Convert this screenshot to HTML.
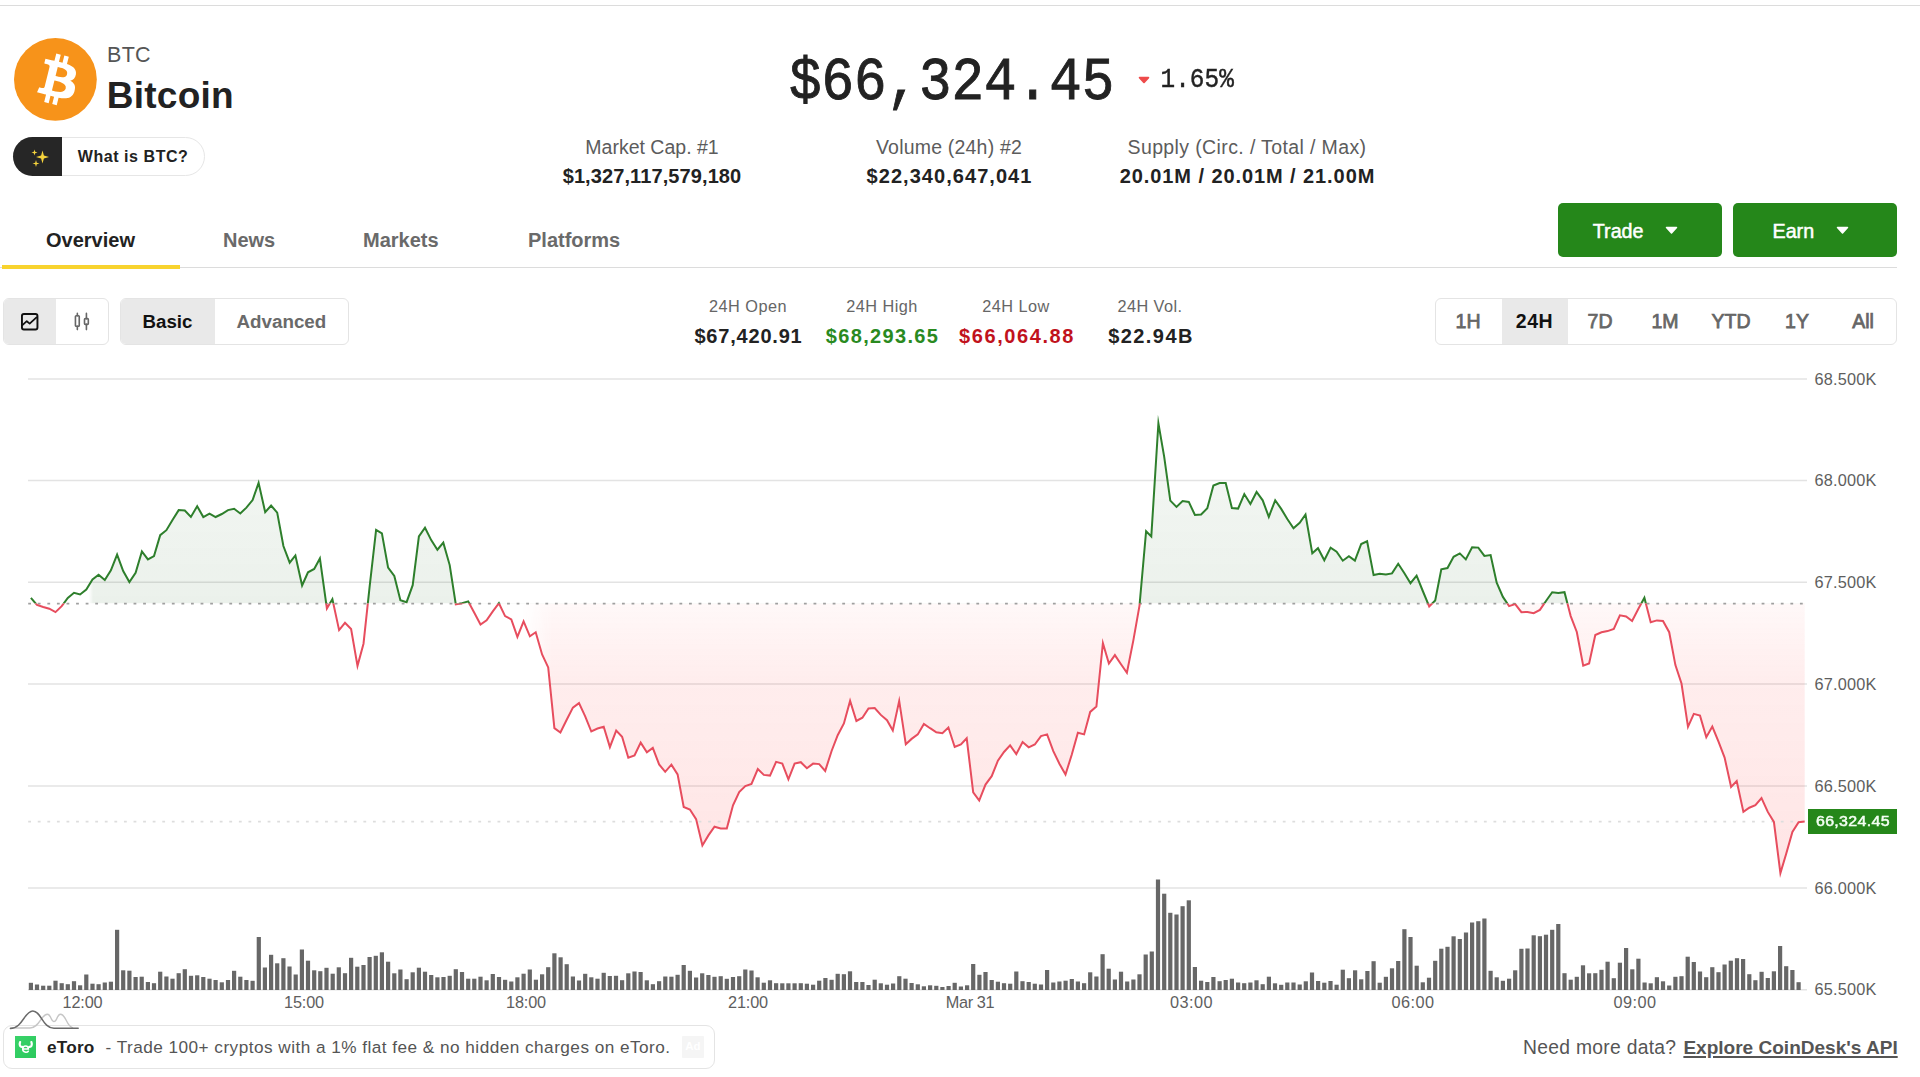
<!DOCTYPE html>
<html><head><meta charset="utf-8"><title>Bitcoin</title>
<style>
html,body{margin:0;padding:0;background:#fff;}
body{width:1920px;height:1077px;position:relative;overflow:hidden;font-family:"Liberation Sans",sans-serif;color:#222;}
.a{position:absolute;white-space:nowrap;}
.c{position:absolute;white-space:nowrap;text-align:center;}
.m{-webkit-text-stroke:0.5px currentColor;}
.m2{-webkit-text-stroke:0.75px currentColor;}
.topline{left:0;top:5px;width:1920px;height:1px;background:#dcdcdc;}
.btc{left:107px;top:42px;font-size:21.5px;line-height:26px;color:#555;letter-spacing:0.3px;}
.name{left:106.8px;top:72.8px;font-size:37px;line-height:46px;font-weight:bold;color:#222;letter-spacing:0.25px;}
.pill{left:13.3px;top:136.8px;width:190px;height:37.4px;border:1px solid #e6e6e6;border-radius:20px;background:#fff;}
.pill .dk{position:absolute;left:-1px;top:-1px;width:48.5px;height:39.4px;background:#262626;border-radius:20px 0 0 20px;}
.pill .tx{position:absolute;left:63.5px;top:0;line-height:37.4px;font-size:16px;font-weight:bold;letter-spacing:0.55px;color:#222;}
.price{left:789px;top:47.1px;font-family:"Liberation Mono",monospace;font-size:54.2px;line-height:66px;color:#222;letter-spacing:0;-webkit-text-stroke:0.8px #222;transform-origin:0 0;transform:scaleY(1.112);}
.chg{left:1160.6px;top:63.9px;font-family:"Liberation Mono",monospace;font-size:24.4px;line-height:30px;color:#222;-webkit-text-stroke:0.4px #222;transform-origin:0 0;transform:scaleY(1.105);}
.sl{font-size:19.5px;line-height:24px;color:#5c5c5c;width:400px;}
.sv{font-size:20px;line-height:24px;color:#222;font-weight:bold;width:400px;}
.tab{font-size:20px;line-height:24px;color:#6a6a6a;top:227.7px;font-weight:bold;}
.tabline{left:0;top:266.5px;width:1897px;height:1px;background:#dcdcdc;}
.tabsel{left:2px;top:265px;width:178px;height:3.5px;background:#f8d32e;}
.btn{top:203px;width:164px;height:54px;background:#25871a;border-radius:5px;color:#fff;font-size:19.7px;line-height:54px;}
.seg{top:297.8px;height:45.7px;border:1px solid #e4e4e4;border-radius:6px;background:#fff;overflow:hidden;}
.seg .on{position:absolute;top:0;height:46px;background:#e9e9e9;}
.hl{font-size:16.3px;line-height:20px;color:#666;width:200px;top:296px;letter-spacing:0.45px;}
.hv{font-size:20px;line-height:24px;font-weight:bold;width:200px;top:324px;color:#222;}
.rg{font-size:19.5px;line-height:24px;color:#666;width:66px;top:309.3px;}
.yl{position:absolute;left:1814.5px;font-size:16.3px;line-height:20px;color:#5e5e5e;white-space:nowrap;letter-spacing:0.2px;}
.xl{position:absolute;top:991.9px;width:80px;text-align:center;font-size:16.3px;line-height:20px;color:#5e5e5e;white-space:nowrap;letter-spacing:0.2px;}
.plabel{left:1808px;top:809px;width:89px;height:24.5px;background:#25871a;color:#f4fff4;font-size:14.5px;line-height:25.4px;text-align:center;letter-spacing:0.3px;text-indent:0.3px;-webkit-text-stroke:0.5px #f4fff4;}
.plabel span{display:inline-block;transform:scaleX(1.1);}
.ad{left:3px;top:1025px;width:710px;height:42px;border:1px solid #e4e4e4;border-radius:9px;background:#fff;}
.adlogo{left:14.6px;top:1036.1px;width:21.5px;height:21.5px;background:linear-gradient(135deg,#3ad36a,#2bc85c);}
.adname{left:47px;top:1035px;font-size:17.2px;line-height:24px;font-weight:bold;color:#222;letter-spacing:0.2px;}
.adtxt{left:105.5px;top:1035px;font-size:17.2px;line-height:24px;color:#555;letter-spacing:0.47px;}
.adbadge{left:682.2px;top:1035.8px;width:21.6px;height:21.8px;background:#f5f5f5;border-radius:1px;color:#fff;font-size:11.5px;font-weight:bold;line-height:21.8px;text-align:center;}
.need{left:1523px;top:1035.8px;font-size:19.3px;line-height:24px;color:#555;letter-spacing:0.29px;}
.needl{left:1683.4px;top:1035.8px;font-size:19.05px;line-height:24px;color:#555;font-weight:bold;text-decoration:underline;text-decoration-thickness:1.5px;text-underline-offset:2px;}
svg{position:absolute;left:0;top:0;}
</style></head><body>
<div class="a topline"></div>

<svg width="1920" height="1077" viewBox="0 0 1920 1077">
<defs>
<linearGradient id="gg" gradientUnits="userSpaceOnUse" x1="0" y1="410" x2="0" y2="603.6">
<stop offset="0" stop-color="#236423" stop-opacity="0.015"/><stop offset="0.36" stop-color="#236423" stop-opacity="0.06"/><stop offset="1" stop-color="#236423" stop-opacity="0.09"/></linearGradient>
<linearGradient id="rg" gradientUnits="userSpaceOnUse" x1="0" y1="603.6" x2="0" y2="880">
<stop offset="0" stop-color="#ff3b3b" stop-opacity="0.035"/><stop offset="0.27" stop-color="#ff3b3b" stop-opacity="0.09"/><stop offset="1" stop-color="#ff3b3b" stop-opacity="0.135"/></linearGradient>
<linearGradient id="hg" gradientUnits="userSpaceOnUse" x1="0" y1="0" x2="1920" y2="0"><stop offset="0.04635416666666667" stop-color="#000"/><stop offset="0.0484375" stop-color="#fff"/></linearGradient>
<linearGradient id="hr" gradientUnits="userSpaceOnUse" x1="0" y1="0" x2="1920" y2="0"><stop offset="0.271875" stop-color="#000"/><stop offset="0.2875" stop-color="#fff"/></linearGradient>
<mask id="mg" maskUnits="userSpaceOnUse" x="0" y="0" width="1920" height="1077"><rect x="0" y="0" width="1920" height="1077" fill="url(#hg)"/></mask>
<mask id="mr" maskUnits="userSpaceOnUse" x="0" y="0" width="1920" height="1077"><rect x="0" y="0" width="1920" height="1077" fill="url(#hr)"/></mask>
<clipPath id="up"><rect x="0" y="370" width="1920" height="233.60000000000002"/></clipPath>
<clipPath id="dn"><rect x="0" y="603.6" width="1920" height="396.4"/></clipPath>
</defs>
<g stroke="#e3e3e3" stroke-width="1.4"><line x1="28" x2="1807" y1="379" y2="379"/><line x1="28" x2="1807" y1="480.5" y2="480.5"/><line x1="28" x2="1807" y1="582.3" y2="582.3"/><line x1="28" x2="1807" y1="684" y2="684"/><line x1="28" x2="1807" y1="786" y2="786"/><line x1="28" x2="1807" y1="888" y2="888"/><line x1="28" x2="1807" y1="989.7" y2="989.7"/></g>
<g mask="url(#mg)"><path d="M30.9 603.6 L30.9 597.9 L37 605 L43.2 607 L49.3 608.7 L55.5 612.1 L61.7 606.2 L67.8 597.9 L74 592.8 L80.1 594.5 L86.3 589.5 L92.5 579.5 L98.6 574.8 L104.8 580 L110.9 570.3 L117.1 554.6 L123.2 571.1 L129.4 582 L135.6 572.8 L141.9 551.5 L147.9 559.4 L154 556.1 L160.2 535.2 L166.4 530.2 L172.5 520.1 L178.7 510.1 L184.8 510.5 L190.9 516.9 L197.2 506.2 L203.3 517.1 L209.5 513.6 L215.6 517 L221.8 514 L228 510.1 L234.1 508.8 L240.3 513.5 L246.4 507.6 L252.6 500.1 L258.6 482.9 L265.2 512.2 L271.1 505.6 L277.2 512.6 L283.4 546 L289.7 562.7 L295.4 555.5 L302.1 585.5 L308 572.3 L314.2 568.9 L319.9 558.4 L326.9 608.5 L332.4 599.1 L339.1 630.1 L345 622.8 L351.1 629 L357.5 665.8 L363.5 643.7 L369.6 586.9 L376.1 530 L381.9 533.4 L388.1 567.6 L394.3 576 L400.4 600.2 L406.6 602.2 L412.7 585.2 L418.9 536.4 L425 527.7 L431.2 540.1 L437.4 549.7 L443.3 542.7 L449.7 565.1 L455.8 604.4 L462 603.2 L468.2 601.4 L474.3 612.8 L480.5 624.5 L486.6 620.3 L492.8 611.4 L498.9 603.2 L505.1 616.1 L511.3 619.4 L517.4 636.9 L523.6 621.4 L529.9 636.3 L535.7 632.3 L542.1 654.5 L548.2 667.4 L554.4 728.1 L560.4 732.5 L566.7 719.8 L572.9 707.6 L579 703.1 L585.2 716.4 L591.3 731.5 L597.5 728.5 L603.7 726.8 L609.9 747.1 L616.2 730.6 L622.1 736.8 L628.3 757.7 L634.5 755.5 L640.7 742.6 L646.9 752.2 L652.8 747.9 L659.1 764.4 L665.2 771.8 L671.4 764.7 L677.6 774.4 L683.7 807 L689.9 809.5 L696.1 819.1 L702.4 845.4 L708.4 835.4 L714.5 826.7 L720.7 828.4 L726.8 828.4 L733 805.3 L739.2 792 L745.3 786.1 L751.5 784 L757.8 769 L763.8 774.9 L770 775.6 L776.1 761.9 L782.3 763.6 L788.4 779.3 L794.6 763.6 L800.8 762.2 L806.9 768.2 L813.1 763.6 L819.2 764.1 L825.2 770.9 L831.6 751 L837.7 735.2 L843.9 723.5 L850.1 700.9 L856.4 721 L862.4 717.7 L868.5 708.5 L874.7 708 L880.8 714.9 L887 720.2 L892.8 730.5 L899.2 700.9 L905.8 744.2 L911.6 738.9 L917.8 734.4 L923.9 723.9 L930.1 728.2 L936.3 732.3 L942.4 733.3 L948.4 727.5 L954.7 747 L960.9 744.5 L966.7 738.3 L973.2 792.4 L979.2 800.5 L985.5 784.6 L991.7 776.2 L997.9 760.7 L1004 752 L1010.1 745.4 L1016.3 754 L1022.6 742.1 L1028.7 747.3 L1034.8 744.5 L1041 736.1 L1047.1 734.4 L1053.3 751.1 L1059.4 763.7 L1065.5 774.6 L1071.8 754.5 L1077.9 732.8 L1084.1 734.4 L1090.2 711.9 L1096.4 706.5 L1102.9 643.1 L1108.9 663.5 L1114.9 655.1 L1121 664.2 L1126.9 672.7 L1133.4 640.1 L1139.5 605.6 L1146.1 531.2 L1151.3 536.4 L1158.4 423.3 L1164.2 456.8 L1170.3 500.6 L1176.5 506.9 L1182.6 501.1 L1188.8 501.9 L1194.9 515 L1201.1 514.5 L1207.3 508.3 L1213.4 485.5 L1219.6 483 L1225.7 483 L1231.9 508.1 L1238.1 508.6 L1244.3 494.1 L1250.4 504 L1256.6 492 L1262.7 500.3 L1268.8 516.9 L1275.2 500.3 L1281.2 508.9 L1287.3 519 L1293.5 528.3 L1299.7 522.8 L1305.5 514.5 L1312.3 553.3 L1318 548.2 L1324.3 560.3 L1330.6 547.6 L1336.6 551.7 L1342.8 560.7 L1348.9 556.2 L1354.9 560.6 L1361.2 544 L1367.1 541.3 L1373.6 575.1 L1379.7 573.8 L1385.9 574.6 L1392 573.4 L1398.2 563.8 L1404.4 573.3 L1410.5 583.2 L1416.6 575.7 L1422.8 591 L1429.2 606.4 L1435.2 600.5 L1441.3 569.3 L1447.5 568.1 L1453.6 556.8 L1459.8 553.4 L1465.8 559.4 L1472.1 547.2 L1478.3 547.6 L1484.4 555.9 L1490.6 555.1 L1496.7 582.7 L1502.9 596.9 L1509.1 606.1 L1515.2 604.1 L1521.4 612.2 L1527.5 611.9 L1533.7 613.2 L1539.9 609.9 L1546 601 L1552.2 592.2 L1558.3 593 L1564.5 592.2 L1570.7 616.1 L1576.8 632 L1583.2 665.7 L1589.1 663.4 L1595.3 635 L1601.5 632.3 L1607.6 631.1 L1613.8 629 L1619.9 615.3 L1626.1 616.4 L1632.1 621 L1638.4 608.7 L1644.4 597.8 L1650.7 622.3 L1656.9 620.4 L1663 620.9 L1669.2 632.2 L1675.4 665.1 L1681.5 683.5 L1688 726.8 L1693.8 713.9 L1700 715.6 L1706.3 737.2 L1712.3 726.5 L1718.5 741.7 L1724.6 757.6 L1731.1 786.9 L1736.7 781.1 L1743.4 811.9 L1749.3 807.7 L1755.4 805.2 L1761.5 798.1 L1767.8 811.9 L1773.9 821.9 L1780.4 873.1 L1786.2 853.7 L1792.4 832 L1798.6 822.3 L1804.7 821.6 L1804.7 603.6 Z" fill="url(#gg)" clip-path="url(#up)"/></g>
<g mask="url(#mr)"><path d="M30.9 603.6 L30.9 597.9 L37 605 L43.2 607 L49.3 608.7 L55.5 612.1 L61.7 606.2 L67.8 597.9 L74 592.8 L80.1 594.5 L86.3 589.5 L92.5 579.5 L98.6 574.8 L104.8 580 L110.9 570.3 L117.1 554.6 L123.2 571.1 L129.4 582 L135.6 572.8 L141.9 551.5 L147.9 559.4 L154 556.1 L160.2 535.2 L166.4 530.2 L172.5 520.1 L178.7 510.1 L184.8 510.5 L190.9 516.9 L197.2 506.2 L203.3 517.1 L209.5 513.6 L215.6 517 L221.8 514 L228 510.1 L234.1 508.8 L240.3 513.5 L246.4 507.6 L252.6 500.1 L258.6 482.9 L265.2 512.2 L271.1 505.6 L277.2 512.6 L283.4 546 L289.7 562.7 L295.4 555.5 L302.1 585.5 L308 572.3 L314.2 568.9 L319.9 558.4 L326.9 608.5 L332.4 599.1 L339.1 630.1 L345 622.8 L351.1 629 L357.5 665.8 L363.5 643.7 L369.6 586.9 L376.1 530 L381.9 533.4 L388.1 567.6 L394.3 576 L400.4 600.2 L406.6 602.2 L412.7 585.2 L418.9 536.4 L425 527.7 L431.2 540.1 L437.4 549.7 L443.3 542.7 L449.7 565.1 L455.8 604.4 L462 603.2 L468.2 601.4 L474.3 612.8 L480.5 624.5 L486.6 620.3 L492.8 611.4 L498.9 603.2 L505.1 616.1 L511.3 619.4 L517.4 636.9 L523.6 621.4 L529.9 636.3 L535.7 632.3 L542.1 654.5 L548.2 667.4 L554.4 728.1 L560.4 732.5 L566.7 719.8 L572.9 707.6 L579 703.1 L585.2 716.4 L591.3 731.5 L597.5 728.5 L603.7 726.8 L609.9 747.1 L616.2 730.6 L622.1 736.8 L628.3 757.7 L634.5 755.5 L640.7 742.6 L646.9 752.2 L652.8 747.9 L659.1 764.4 L665.2 771.8 L671.4 764.7 L677.6 774.4 L683.7 807 L689.9 809.5 L696.1 819.1 L702.4 845.4 L708.4 835.4 L714.5 826.7 L720.7 828.4 L726.8 828.4 L733 805.3 L739.2 792 L745.3 786.1 L751.5 784 L757.8 769 L763.8 774.9 L770 775.6 L776.1 761.9 L782.3 763.6 L788.4 779.3 L794.6 763.6 L800.8 762.2 L806.9 768.2 L813.1 763.6 L819.2 764.1 L825.2 770.9 L831.6 751 L837.7 735.2 L843.9 723.5 L850.1 700.9 L856.4 721 L862.4 717.7 L868.5 708.5 L874.7 708 L880.8 714.9 L887 720.2 L892.8 730.5 L899.2 700.9 L905.8 744.2 L911.6 738.9 L917.8 734.4 L923.9 723.9 L930.1 728.2 L936.3 732.3 L942.4 733.3 L948.4 727.5 L954.7 747 L960.9 744.5 L966.7 738.3 L973.2 792.4 L979.2 800.5 L985.5 784.6 L991.7 776.2 L997.9 760.7 L1004 752 L1010.1 745.4 L1016.3 754 L1022.6 742.1 L1028.7 747.3 L1034.8 744.5 L1041 736.1 L1047.1 734.4 L1053.3 751.1 L1059.4 763.7 L1065.5 774.6 L1071.8 754.5 L1077.9 732.8 L1084.1 734.4 L1090.2 711.9 L1096.4 706.5 L1102.9 643.1 L1108.9 663.5 L1114.9 655.1 L1121 664.2 L1126.9 672.7 L1133.4 640.1 L1139.5 605.6 L1146.1 531.2 L1151.3 536.4 L1158.4 423.3 L1164.2 456.8 L1170.3 500.6 L1176.5 506.9 L1182.6 501.1 L1188.8 501.9 L1194.9 515 L1201.1 514.5 L1207.3 508.3 L1213.4 485.5 L1219.6 483 L1225.7 483 L1231.9 508.1 L1238.1 508.6 L1244.3 494.1 L1250.4 504 L1256.6 492 L1262.7 500.3 L1268.8 516.9 L1275.2 500.3 L1281.2 508.9 L1287.3 519 L1293.5 528.3 L1299.7 522.8 L1305.5 514.5 L1312.3 553.3 L1318 548.2 L1324.3 560.3 L1330.6 547.6 L1336.6 551.7 L1342.8 560.7 L1348.9 556.2 L1354.9 560.6 L1361.2 544 L1367.1 541.3 L1373.6 575.1 L1379.7 573.8 L1385.9 574.6 L1392 573.4 L1398.2 563.8 L1404.4 573.3 L1410.5 583.2 L1416.6 575.7 L1422.8 591 L1429.2 606.4 L1435.2 600.5 L1441.3 569.3 L1447.5 568.1 L1453.6 556.8 L1459.8 553.4 L1465.8 559.4 L1472.1 547.2 L1478.3 547.6 L1484.4 555.9 L1490.6 555.1 L1496.7 582.7 L1502.9 596.9 L1509.1 606.1 L1515.2 604.1 L1521.4 612.2 L1527.5 611.9 L1533.7 613.2 L1539.9 609.9 L1546 601 L1552.2 592.2 L1558.3 593 L1564.5 592.2 L1570.7 616.1 L1576.8 632 L1583.2 665.7 L1589.1 663.4 L1595.3 635 L1601.5 632.3 L1607.6 631.1 L1613.8 629 L1619.9 615.3 L1626.1 616.4 L1632.1 621 L1638.4 608.7 L1644.4 597.8 L1650.7 622.3 L1656.9 620.4 L1663 620.9 L1669.2 632.2 L1675.4 665.1 L1681.5 683.5 L1688 726.8 L1693.8 713.9 L1700 715.6 L1706.3 737.2 L1712.3 726.5 L1718.5 741.7 L1724.6 757.6 L1731.1 786.9 L1736.7 781.1 L1743.4 811.9 L1749.3 807.7 L1755.4 805.2 L1761.5 798.1 L1767.8 811.9 L1773.9 821.9 L1780.4 873.1 L1786.2 853.7 L1792.4 832 L1798.6 822.3 L1804.7 821.6 L1804.7 603.6 Z" fill="url(#rg)" clip-path="url(#dn)"/></g>
<line x1="28.2" x2="1805" y1="603.6" y2="603.6" stroke="#a0a0a0" stroke-width="1.7" stroke-dasharray="2.8 6.777"/>
<line x1="28.2" x2="1805" y1="821.6" y2="821.6" stroke="#dddddd" stroke-width="1.6" stroke-dasharray="2.8 6.777"/>
<g fill="#676767"><rect x="28.8" y="982.8" width="4.2" height="7.2"/><rect x="34.9" y="984.5" width="4.2" height="5.5"/><rect x="41.1" y="985.7" width="4.2" height="4.3"/><rect x="47.2" y="985.7" width="4.2" height="4.3"/><rect x="53.4" y="980.7" width="4.2" height="9.3"/><rect x="59.6" y="983.2" width="4.2" height="6.8"/><rect x="65.7" y="984.2" width="4.2" height="5.8"/><rect x="71.9" y="981.2" width="4.2" height="8.8"/><rect x="78" y="985.3" width="4.2" height="4.7"/><rect x="84.2" y="974.5" width="4.2" height="15.5"/><rect x="90.4" y="983.7" width="4.2" height="6.3"/><rect x="96.5" y="984.2" width="4.2" height="5.8"/><rect x="102.7" y="982.5" width="4.2" height="7.5"/><rect x="108.8" y="981.7" width="4.2" height="8.3"/><rect x="115" y="929.8" width="4.2" height="60.2"/><rect x="121.1" y="970.3" width="4.2" height="19.7"/><rect x="127.3" y="970.7" width="4.2" height="19.3"/><rect x="133.5" y="977" width="4.2" height="13"/><rect x="139.6" y="976.7" width="4.2" height="13.3"/><rect x="145.8" y="982" width="4.2" height="8"/><rect x="151.9" y="983.2" width="4.2" height="6.8"/><rect x="158.1" y="971.7" width="4.2" height="18.3"/><rect x="164.3" y="976.5" width="4.2" height="13.5"/><rect x="170.4" y="978.7" width="4.2" height="11.3"/><rect x="176.6" y="973.2" width="4.2" height="16.8"/><rect x="182.7" y="969.2" width="4.2" height="20.8"/><rect x="188.9" y="975.8" width="4.2" height="14.2"/><rect x="195.1" y="975.3" width="4.2" height="14.7"/><rect x="201.2" y="977" width="4.2" height="13"/><rect x="207.4" y="978.7" width="4.2" height="11.3"/><rect x="213.5" y="980" width="4.2" height="10"/><rect x="219.7" y="982.3" width="4.2" height="7.7"/><rect x="225.9" y="980" width="4.2" height="10"/><rect x="232" y="970.8" width="4.2" height="19.2"/><rect x="238.2" y="976.7" width="4.2" height="13.3"/><rect x="244.3" y="980" width="4.2" height="10"/><rect x="250.5" y="980.8" width="4.2" height="9.2"/><rect x="256.7" y="937" width="4.2" height="53"/><rect x="262.8" y="967.5" width="4.2" height="22.5"/><rect x="269" y="954.8" width="4.2" height="35.2"/><rect x="275.1" y="963.3" width="4.2" height="26.7"/><rect x="281.3" y="958.2" width="4.2" height="31.8"/><rect x="287.4" y="966.5" width="4.2" height="23.5"/><rect x="293.6" y="974.5" width="4.2" height="15.5"/><rect x="299.8" y="949.5" width="4.2" height="40.5"/><rect x="305.9" y="960.7" width="4.2" height="29.3"/><rect x="312.1" y="970.3" width="4.2" height="19.7"/><rect x="318.2" y="971.2" width="4.2" height="18.8"/><rect x="324.4" y="967.8" width="4.2" height="22.2"/><rect x="330.6" y="973.7" width="4.2" height="16.3"/><rect x="336.7" y="967.3" width="4.2" height="22.7"/><rect x="342.9" y="973.2" width="4.2" height="16.8"/><rect x="349" y="957.8" width="4.2" height="32.2"/><rect x="355.2" y="966.7" width="4.2" height="23.3"/><rect x="361.4" y="965" width="4.2" height="25"/><rect x="367.5" y="957" width="4.2" height="33"/><rect x="373.7" y="955.8" width="4.2" height="34.2"/><rect x="379.8" y="952.3" width="4.2" height="37.7"/><rect x="386" y="961.7" width="4.2" height="28.3"/><rect x="392.2" y="973.3" width="4.2" height="16.7"/><rect x="398.3" y="969.5" width="4.2" height="20.5"/><rect x="404.5" y="979.2" width="4.2" height="10.8"/><rect x="410.6" y="972.3" width="4.2" height="17.7"/><rect x="416.8" y="967.7" width="4.2" height="22.3"/><rect x="422.9" y="971.7" width="4.2" height="18.3"/><rect x="429.1" y="975" width="4.2" height="15"/><rect x="435.3" y="977.3" width="4.2" height="12.7"/><rect x="441.4" y="977" width="4.2" height="13"/><rect x="447.6" y="975.8" width="4.2" height="14.2"/><rect x="453.7" y="969.2" width="4.2" height="20.8"/><rect x="459.9" y="972" width="4.2" height="18"/><rect x="466.1" y="978.7" width="4.2" height="11.3"/><rect x="472.2" y="978.7" width="4.2" height="11.3"/><rect x="478.4" y="976.7" width="4.2" height="13.3"/><rect x="484.5" y="980.3" width="4.2" height="9.7"/><rect x="490.7" y="974" width="4.2" height="16"/><rect x="496.9" y="977" width="4.2" height="13"/><rect x="503" y="979.8" width="4.2" height="10.2"/><rect x="509.2" y="981.5" width="4.2" height="8.5"/><rect x="515.3" y="977.3" width="4.2" height="12.7"/><rect x="521.5" y="973.7" width="4.2" height="16.3"/><rect x="527.7" y="969.5" width="4.2" height="20.5"/><rect x="533.8" y="979.7" width="4.2" height="10.3"/><rect x="540" y="974.3" width="4.2" height="15.7"/><rect x="546.1" y="967.2" width="4.2" height="22.8"/><rect x="552.3" y="953.3" width="4.2" height="36.7"/><rect x="558.5" y="957.3" width="4.2" height="32.7"/><rect x="564.6" y="964.2" width="4.2" height="25.8"/><rect x="570.8" y="976.5" width="4.2" height="13.5"/><rect x="576.9" y="980.5" width="4.2" height="9.5"/><rect x="583.1" y="973.8" width="4.2" height="16.2"/><rect x="589.2" y="977.3" width="4.2" height="12.7"/><rect x="595.4" y="978.7" width="4.2" height="11.3"/><rect x="601.6" y="972.8" width="4.2" height="17.2"/><rect x="607.7" y="976" width="4.2" height="14"/><rect x="613.9" y="975.8" width="4.2" height="14.2"/><rect x="620" y="980.2" width="4.2" height="9.8"/><rect x="626.2" y="973.3" width="4.2" height="16.7"/><rect x="632.4" y="971.5" width="4.2" height="18.5"/><rect x="638.5" y="972" width="4.2" height="18"/><rect x="644.7" y="980.3" width="4.2" height="9.7"/><rect x="650.8" y="984.2" width="4.2" height="5.8"/><rect x="657" y="981.2" width="4.2" height="8.8"/><rect x="663.2" y="976.5" width="4.2" height="13.5"/><rect x="669.3" y="976.7" width="4.2" height="13.3"/><rect x="675.5" y="974.8" width="4.2" height="15.2"/><rect x="681.6" y="965" width="4.2" height="25"/><rect x="687.8" y="970.8" width="4.2" height="19.2"/><rect x="694" y="977.5" width="4.2" height="12.5"/><rect x="700.1" y="973.3" width="4.2" height="16.7"/><rect x="706.3" y="975" width="4.2" height="15"/><rect x="712.4" y="976.8" width="4.2" height="13.2"/><rect x="718.6" y="976.2" width="4.2" height="13.8"/><rect x="724.7" y="978.8" width="4.2" height="11.2"/><rect x="730.9" y="977" width="4.2" height="13"/><rect x="737.1" y="976.2" width="4.2" height="13.8"/><rect x="743.2" y="969.5" width="4.2" height="20.5"/><rect x="749.4" y="970.5" width="4.2" height="19.5"/><rect x="755.5" y="977.3" width="4.2" height="12.7"/><rect x="761.7" y="982.7" width="4.2" height="7.3"/><rect x="767.9" y="980.3" width="4.2" height="9.7"/><rect x="774" y="983.2" width="4.2" height="6.8"/><rect x="780.2" y="983.3" width="4.2" height="6.7"/><rect x="786.3" y="983.3" width="4.2" height="6.7"/><rect x="792.5" y="983.3" width="4.2" height="6.7"/><rect x="798.7" y="983.2" width="4.2" height="6.8"/><rect x="804.8" y="983.7" width="4.2" height="6.3"/><rect x="811" y="984.7" width="4.2" height="5.3"/><rect x="817.1" y="980.7" width="4.2" height="9.3"/><rect x="823.3" y="978" width="4.2" height="12"/><rect x="829.5" y="979.8" width="4.2" height="10.2"/><rect x="835.6" y="973.8" width="4.2" height="16.2"/><rect x="841.8" y="974.2" width="4.2" height="15.8"/><rect x="847.9" y="971.3" width="4.2" height="18.7"/><rect x="854.1" y="982" width="4.2" height="8"/><rect x="860.3" y="982" width="4.2" height="8"/><rect x="866.4" y="985" width="4.2" height="5"/><rect x="872.6" y="979.7" width="4.2" height="10.3"/><rect x="878.7" y="983.3" width="4.2" height="6.7"/><rect x="884.9" y="984.7" width="4.2" height="5.3"/><rect x="891" y="983.5" width="4.2" height="6.5"/><rect x="897.2" y="976.2" width="4.2" height="13.8"/><rect x="903.4" y="978.7" width="4.2" height="11.3"/><rect x="909.5" y="983" width="4.2" height="7"/><rect x="915.7" y="984.3" width="4.2" height="5.7"/><rect x="921.8" y="986.3" width="4.2" height="3.7"/><rect x="928" y="985.3" width="4.2" height="4.7"/><rect x="934.2" y="985.8" width="4.2" height="4.2"/><rect x="940.3" y="987" width="4.2" height="3"/><rect x="946.5" y="986" width="4.2" height="4"/><rect x="952.6" y="982.8" width="4.2" height="7.2"/><rect x="958.8" y="986.5" width="4.2" height="3.5"/><rect x="965" y="985.3" width="4.2" height="4.7"/><rect x="971.1" y="964" width="4.2" height="26"/><rect x="977.3" y="974.8" width="4.2" height="15.2"/><rect x="983.4" y="972" width="4.2" height="18"/><rect x="989.6" y="980" width="4.2" height="10"/><rect x="995.8" y="981.7" width="4.2" height="8.3"/><rect x="1001.9" y="983.2" width="4.2" height="6.8"/><rect x="1008.1" y="983.7" width="4.2" height="6.3"/><rect x="1014.2" y="971.5" width="4.2" height="18.5"/><rect x="1020.4" y="981.2" width="4.2" height="8.8"/><rect x="1026.6" y="982" width="4.2" height="8"/><rect x="1032.7" y="983.7" width="4.2" height="6.3"/><rect x="1038.9" y="984.5" width="4.2" height="5.5"/><rect x="1045" y="970" width="4.2" height="20"/><rect x="1051.2" y="982.5" width="4.2" height="7.5"/><rect x="1057.3" y="981.5" width="4.2" height="8.5"/><rect x="1063.5" y="980.7" width="4.2" height="9.3"/><rect x="1069.7" y="979" width="4.2" height="11"/><rect x="1075.8" y="981.5" width="4.2" height="8.5"/><rect x="1082" y="983.2" width="4.2" height="6.8"/><rect x="1088.1" y="972.3" width="4.2" height="17.7"/><rect x="1094.3" y="976.5" width="4.2" height="13.5"/><rect x="1100.5" y="954.2" width="4.2" height="35.8"/><rect x="1106.6" y="968.7" width="4.2" height="21.3"/><rect x="1112.8" y="979.5" width="4.2" height="10.5"/><rect x="1118.9" y="971.7" width="4.2" height="18.3"/><rect x="1125.1" y="981.5" width="4.2" height="8.5"/><rect x="1131.3" y="979.5" width="4.2" height="10.5"/><rect x="1137.4" y="974.3" width="4.2" height="15.7"/><rect x="1143.6" y="954.5" width="4.2" height="35.5"/><rect x="1149.7" y="951.5" width="4.2" height="38.5"/><rect x="1155.9" y="879.5" width="4.2" height="110.5"/><rect x="1162.1" y="893.7" width="4.2" height="96.3"/><rect x="1168.2" y="912.8" width="4.2" height="77.2"/><rect x="1174.4" y="914.5" width="4.2" height="75.5"/><rect x="1180.5" y="906.2" width="4.2" height="83.8"/><rect x="1186.7" y="900.3" width="4.2" height="89.7"/><rect x="1192.8" y="967" width="4.2" height="23"/><rect x="1199" y="980.7" width="4.2" height="9.3"/><rect x="1205.2" y="982" width="4.2" height="8"/><rect x="1211.3" y="977" width="4.2" height="13"/><rect x="1217.5" y="981.2" width="4.2" height="8.8"/><rect x="1223.6" y="980" width="4.2" height="10"/><rect x="1229.8" y="978.7" width="4.2" height="11.3"/><rect x="1236" y="982.5" width="4.2" height="7.5"/><rect x="1242.1" y="983.2" width="4.2" height="6.8"/><rect x="1248.3" y="982.5" width="4.2" height="7.5"/><rect x="1254.4" y="980.3" width="4.2" height="9.7"/><rect x="1260.6" y="984.2" width="4.2" height="5.8"/><rect x="1266.8" y="976.7" width="4.2" height="13.3"/><rect x="1272.9" y="983.3" width="4.2" height="6.7"/><rect x="1279.1" y="984.8" width="4.2" height="5.2"/><rect x="1285.2" y="982.5" width="4.2" height="7.5"/><rect x="1291.4" y="982.5" width="4.2" height="7.5"/><rect x="1297.6" y="984.5" width="4.2" height="5.5"/><rect x="1303.7" y="981.3" width="4.2" height="8.7"/><rect x="1309.9" y="972.5" width="4.2" height="17.5"/><rect x="1316" y="981" width="4.2" height="9"/><rect x="1322.2" y="982.7" width="4.2" height="7.3"/><rect x="1328.4" y="981" width="4.2" height="9"/><rect x="1334.5" y="984.7" width="4.2" height="5.3"/><rect x="1340.7" y="969.7" width="4.2" height="20.3"/><rect x="1346.8" y="978.2" width="4.2" height="11.8"/><rect x="1353" y="970.3" width="4.2" height="19.7"/><rect x="1359.1" y="979.3" width="4.2" height="10.7"/><rect x="1365.3" y="971" width="4.2" height="19"/><rect x="1371.5" y="961.2" width="4.2" height="28.8"/><rect x="1377.6" y="982.7" width="4.2" height="7.3"/><rect x="1383.8" y="976.8" width="4.2" height="13.2"/><rect x="1389.9" y="968.3" width="4.2" height="21.7"/><rect x="1396.1" y="961" width="4.2" height="29"/><rect x="1402.3" y="929.2" width="4.2" height="60.8"/><rect x="1408.4" y="937" width="4.2" height="53"/><rect x="1414.6" y="965.7" width="4.2" height="24.3"/><rect x="1420.7" y="982.3" width="4.2" height="7.7"/><rect x="1426.9" y="977.7" width="4.2" height="12.3"/><rect x="1433.1" y="960.8" width="4.2" height="29.2"/><rect x="1439.2" y="948.7" width="4.2" height="41.3"/><rect x="1445.4" y="946.8" width="4.2" height="43.2"/><rect x="1451.5" y="936.3" width="4.2" height="53.7"/><rect x="1457.7" y="939" width="4.2" height="51"/><rect x="1463.9" y="932.5" width="4.2" height="57.5"/><rect x="1470" y="922.5" width="4.2" height="67.5"/><rect x="1476.2" y="921.2" width="4.2" height="68.8"/><rect x="1482.3" y="918.5" width="4.2" height="71.5"/><rect x="1488.5" y="970.8" width="4.2" height="19.2"/><rect x="1494.6" y="977.3" width="4.2" height="12.7"/><rect x="1500.8" y="980.8" width="4.2" height="9.2"/><rect x="1507" y="978.7" width="4.2" height="11.3"/><rect x="1513.1" y="970.3" width="4.2" height="19.7"/><rect x="1519.3" y="948.8" width="4.2" height="41.2"/><rect x="1525.4" y="948.5" width="4.2" height="41.5"/><rect x="1531.6" y="935.3" width="4.2" height="54.7"/><rect x="1537.8" y="936.2" width="4.2" height="53.8"/><rect x="1543.9" y="934.7" width="4.2" height="55.3"/><rect x="1550.1" y="929.8" width="4.2" height="60.2"/><rect x="1556.2" y="924" width="4.2" height="66"/><rect x="1562.4" y="973.2" width="4.2" height="16.8"/><rect x="1568.6" y="979.7" width="4.2" height="10.3"/><rect x="1574.7" y="976.8" width="4.2" height="13.2"/><rect x="1580.9" y="965.3" width="4.2" height="24.7"/><rect x="1587" y="973.3" width="4.2" height="16.7"/><rect x="1593.2" y="973.2" width="4.2" height="16.8"/><rect x="1599.4" y="969.8" width="4.2" height="20.2"/><rect x="1605.5" y="961.7" width="4.2" height="28.3"/><rect x="1611.7" y="978.2" width="4.2" height="11.8"/><rect x="1617.8" y="962.7" width="4.2" height="27.3"/><rect x="1624" y="948" width="4.2" height="42"/><rect x="1630.2" y="969.3" width="4.2" height="20.7"/><rect x="1636.3" y="958.7" width="4.2" height="31.3"/><rect x="1642.5" y="982.5" width="4.2" height="7.5"/><rect x="1648.6" y="983.3" width="4.2" height="6.7"/><rect x="1654.8" y="977.2" width="4.2" height="12.8"/><rect x="1660.9" y="981.3" width="4.2" height="8.7"/><rect x="1667.1" y="985.5" width="4.2" height="4.5"/><rect x="1673.3" y="976.8" width="4.2" height="13.2"/><rect x="1679.4" y="976.2" width="4.2" height="13.8"/><rect x="1685.6" y="956.7" width="4.2" height="33.3"/><rect x="1691.7" y="962" width="4.2" height="28"/><rect x="1697.9" y="971.5" width="4.2" height="18.5"/><rect x="1704.1" y="977.2" width="4.2" height="12.8"/><rect x="1710.2" y="967.2" width="4.2" height="22.8"/><rect x="1716.4" y="972.2" width="4.2" height="17.8"/><rect x="1722.5" y="964.5" width="4.2" height="25.5"/><rect x="1728.7" y="960.7" width="4.2" height="29.3"/><rect x="1734.9" y="958.2" width="4.2" height="31.8"/><rect x="1741" y="959" width="4.2" height="31"/><rect x="1747.2" y="974.2" width="4.2" height="15.8"/><rect x="1753.3" y="980.2" width="4.2" height="9.8"/><rect x="1759.5" y="971.8" width="4.2" height="18.2"/><rect x="1765.7" y="978" width="4.2" height="12"/><rect x="1771.8" y="971.3" width="4.2" height="18.7"/><rect x="1778" y="946" width="4.2" height="44"/><rect x="1784.1" y="966.2" width="4.2" height="23.8"/><rect x="1790.3" y="970" width="4.2" height="20"/><rect x="1796.5" y="982.2" width="4.2" height="7.8"/></g>
<path d="M30.9 597.9 L37 605 L43.2 607 L49.3 608.7 L55.5 612.1 L61.7 606.2 L67.8 597.9 L74 592.8 L80.1 594.5 L86.3 589.5 L92.5 579.5 L98.6 574.8 L104.8 580 L110.9 570.3 L117.1 554.6 L123.2 571.1 L129.4 582 L135.6 572.8 L141.9 551.5 L147.9 559.4 L154 556.1 L160.2 535.2 L166.4 530.2 L172.5 520.1 L178.7 510.1 L184.8 510.5 L190.9 516.9 L197.2 506.2 L203.3 517.1 L209.5 513.6 L215.6 517 L221.8 514 L228 510.1 L234.1 508.8 L240.3 513.5 L246.4 507.6 L252.6 500.1 L258.6 482.9 L265.2 512.2 L271.1 505.6 L277.2 512.6 L283.4 546 L289.7 562.7 L295.4 555.5 L302.1 585.5 L308 572.3 L314.2 568.9 L319.9 558.4 L326.9 608.5 L332.4 599.1 L339.1 630.1 L345 622.8 L351.1 629 L357.5 665.8 L363.5 643.7 L369.6 586.9 L376.1 530 L381.9 533.4 L388.1 567.6 L394.3 576 L400.4 600.2 L406.6 602.2 L412.7 585.2 L418.9 536.4 L425 527.7 L431.2 540.1 L437.4 549.7 L443.3 542.7 L449.7 565.1 L455.8 604.4 L462 603.2 L468.2 601.4 L474.3 612.8 L480.5 624.5 L486.6 620.3 L492.8 611.4 L498.9 603.2 L505.1 616.1 L511.3 619.4 L517.4 636.9 L523.6 621.4 L529.9 636.3 L535.7 632.3 L542.1 654.5 L548.2 667.4 L554.4 728.1 L560.4 732.5 L566.7 719.8 L572.9 707.6 L579 703.1 L585.2 716.4 L591.3 731.5 L597.5 728.5 L603.7 726.8 L609.9 747.1 L616.2 730.6 L622.1 736.8 L628.3 757.7 L634.5 755.5 L640.7 742.6 L646.9 752.2 L652.8 747.9 L659.1 764.4 L665.2 771.8 L671.4 764.7 L677.6 774.4 L683.7 807 L689.9 809.5 L696.1 819.1 L702.4 845.4 L708.4 835.4 L714.5 826.7 L720.7 828.4 L726.8 828.4 L733 805.3 L739.2 792 L745.3 786.1 L751.5 784 L757.8 769 L763.8 774.9 L770 775.6 L776.1 761.9 L782.3 763.6 L788.4 779.3 L794.6 763.6 L800.8 762.2 L806.9 768.2 L813.1 763.6 L819.2 764.1 L825.2 770.9 L831.6 751 L837.7 735.2 L843.9 723.5 L850.1 700.9 L856.4 721 L862.4 717.7 L868.5 708.5 L874.7 708 L880.8 714.9 L887 720.2 L892.8 730.5 L899.2 700.9 L905.8 744.2 L911.6 738.9 L917.8 734.4 L923.9 723.9 L930.1 728.2 L936.3 732.3 L942.4 733.3 L948.4 727.5 L954.7 747 L960.9 744.5 L966.7 738.3 L973.2 792.4 L979.2 800.5 L985.5 784.6 L991.7 776.2 L997.9 760.7 L1004 752 L1010.1 745.4 L1016.3 754 L1022.6 742.1 L1028.7 747.3 L1034.8 744.5 L1041 736.1 L1047.1 734.4 L1053.3 751.1 L1059.4 763.7 L1065.5 774.6 L1071.8 754.5 L1077.9 732.8 L1084.1 734.4 L1090.2 711.9 L1096.4 706.5 L1102.9 643.1 L1108.9 663.5 L1114.9 655.1 L1121 664.2 L1126.9 672.7 L1133.4 640.1 L1139.5 605.6 L1146.1 531.2 L1151.3 536.4 L1158.4 423.3 L1164.2 456.8 L1170.3 500.6 L1176.5 506.9 L1182.6 501.1 L1188.8 501.9 L1194.9 515 L1201.1 514.5 L1207.3 508.3 L1213.4 485.5 L1219.6 483 L1225.7 483 L1231.9 508.1 L1238.1 508.6 L1244.3 494.1 L1250.4 504 L1256.6 492 L1262.7 500.3 L1268.8 516.9 L1275.2 500.3 L1281.2 508.9 L1287.3 519 L1293.5 528.3 L1299.7 522.8 L1305.5 514.5 L1312.3 553.3 L1318 548.2 L1324.3 560.3 L1330.6 547.6 L1336.6 551.7 L1342.8 560.7 L1348.9 556.2 L1354.9 560.6 L1361.2 544 L1367.1 541.3 L1373.6 575.1 L1379.7 573.8 L1385.9 574.6 L1392 573.4 L1398.2 563.8 L1404.4 573.3 L1410.5 583.2 L1416.6 575.7 L1422.8 591 L1429.2 606.4 L1435.2 600.5 L1441.3 569.3 L1447.5 568.1 L1453.6 556.8 L1459.8 553.4 L1465.8 559.4 L1472.1 547.2 L1478.3 547.6 L1484.4 555.9 L1490.6 555.1 L1496.7 582.7 L1502.9 596.9 L1509.1 606.1 L1515.2 604.1 L1521.4 612.2 L1527.5 611.9 L1533.7 613.2 L1539.9 609.9 L1546 601 L1552.2 592.2 L1558.3 593 L1564.5 592.2 L1570.7 616.1 L1576.8 632 L1583.2 665.7 L1589.1 663.4 L1595.3 635 L1601.5 632.3 L1607.6 631.1 L1613.8 629 L1619.9 615.3 L1626.1 616.4 L1632.1 621 L1638.4 608.7 L1644.4 597.8 L1650.7 622.3 L1656.9 620.4 L1663 620.9 L1669.2 632.2 L1675.4 665.1 L1681.5 683.5 L1688 726.8 L1693.8 713.9 L1700 715.6 L1706.3 737.2 L1712.3 726.5 L1718.5 741.7 L1724.6 757.6 L1731.1 786.9 L1736.7 781.1 L1743.4 811.9 L1749.3 807.7 L1755.4 805.2 L1761.5 798.1 L1767.8 811.9 L1773.9 821.9 L1780.4 873.1 L1786.2 853.7 L1792.4 832 L1798.6 822.3 L1804.7 821.6" fill="none" stroke="#2e7f2c" stroke-width="2" stroke-linejoin="miter" stroke-miterlimit="12" stroke-linecap="butt" clip-path="url(#up)"/>
<path d="M30.9 597.9 L37 605 L43.2 607 L49.3 608.7 L55.5 612.1 L61.7 606.2 L67.8 597.9 L74 592.8 L80.1 594.5 L86.3 589.5 L92.5 579.5 L98.6 574.8 L104.8 580 L110.9 570.3 L117.1 554.6 L123.2 571.1 L129.4 582 L135.6 572.8 L141.9 551.5 L147.9 559.4 L154 556.1 L160.2 535.2 L166.4 530.2 L172.5 520.1 L178.7 510.1 L184.8 510.5 L190.9 516.9 L197.2 506.2 L203.3 517.1 L209.5 513.6 L215.6 517 L221.8 514 L228 510.1 L234.1 508.8 L240.3 513.5 L246.4 507.6 L252.6 500.1 L258.6 482.9 L265.2 512.2 L271.1 505.6 L277.2 512.6 L283.4 546 L289.7 562.7 L295.4 555.5 L302.1 585.5 L308 572.3 L314.2 568.9 L319.9 558.4 L326.9 608.5 L332.4 599.1 L339.1 630.1 L345 622.8 L351.1 629 L357.5 665.8 L363.5 643.7 L369.6 586.9 L376.1 530 L381.9 533.4 L388.1 567.6 L394.3 576 L400.4 600.2 L406.6 602.2 L412.7 585.2 L418.9 536.4 L425 527.7 L431.2 540.1 L437.4 549.7 L443.3 542.7 L449.7 565.1 L455.8 604.4 L462 603.2 L468.2 601.4 L474.3 612.8 L480.5 624.5 L486.6 620.3 L492.8 611.4 L498.9 603.2 L505.1 616.1 L511.3 619.4 L517.4 636.9 L523.6 621.4 L529.9 636.3 L535.7 632.3 L542.1 654.5 L548.2 667.4 L554.4 728.1 L560.4 732.5 L566.7 719.8 L572.9 707.6 L579 703.1 L585.2 716.4 L591.3 731.5 L597.5 728.5 L603.7 726.8 L609.9 747.1 L616.2 730.6 L622.1 736.8 L628.3 757.7 L634.5 755.5 L640.7 742.6 L646.9 752.2 L652.8 747.9 L659.1 764.4 L665.2 771.8 L671.4 764.7 L677.6 774.4 L683.7 807 L689.9 809.5 L696.1 819.1 L702.4 845.4 L708.4 835.4 L714.5 826.7 L720.7 828.4 L726.8 828.4 L733 805.3 L739.2 792 L745.3 786.1 L751.5 784 L757.8 769 L763.8 774.9 L770 775.6 L776.1 761.9 L782.3 763.6 L788.4 779.3 L794.6 763.6 L800.8 762.2 L806.9 768.2 L813.1 763.6 L819.2 764.1 L825.2 770.9 L831.6 751 L837.7 735.2 L843.9 723.5 L850.1 700.9 L856.4 721 L862.4 717.7 L868.5 708.5 L874.7 708 L880.8 714.9 L887 720.2 L892.8 730.5 L899.2 700.9 L905.8 744.2 L911.6 738.9 L917.8 734.4 L923.9 723.9 L930.1 728.2 L936.3 732.3 L942.4 733.3 L948.4 727.5 L954.7 747 L960.9 744.5 L966.7 738.3 L973.2 792.4 L979.2 800.5 L985.5 784.6 L991.7 776.2 L997.9 760.7 L1004 752 L1010.1 745.4 L1016.3 754 L1022.6 742.1 L1028.7 747.3 L1034.8 744.5 L1041 736.1 L1047.1 734.4 L1053.3 751.1 L1059.4 763.7 L1065.5 774.6 L1071.8 754.5 L1077.9 732.8 L1084.1 734.4 L1090.2 711.9 L1096.4 706.5 L1102.9 643.1 L1108.9 663.5 L1114.9 655.1 L1121 664.2 L1126.9 672.7 L1133.4 640.1 L1139.5 605.6 L1146.1 531.2 L1151.3 536.4 L1158.4 423.3 L1164.2 456.8 L1170.3 500.6 L1176.5 506.9 L1182.6 501.1 L1188.8 501.9 L1194.9 515 L1201.1 514.5 L1207.3 508.3 L1213.4 485.5 L1219.6 483 L1225.7 483 L1231.9 508.1 L1238.1 508.6 L1244.3 494.1 L1250.4 504 L1256.6 492 L1262.7 500.3 L1268.8 516.9 L1275.2 500.3 L1281.2 508.9 L1287.3 519 L1293.5 528.3 L1299.7 522.8 L1305.5 514.5 L1312.3 553.3 L1318 548.2 L1324.3 560.3 L1330.6 547.6 L1336.6 551.7 L1342.8 560.7 L1348.9 556.2 L1354.9 560.6 L1361.2 544 L1367.1 541.3 L1373.6 575.1 L1379.7 573.8 L1385.9 574.6 L1392 573.4 L1398.2 563.8 L1404.4 573.3 L1410.5 583.2 L1416.6 575.7 L1422.8 591 L1429.2 606.4 L1435.2 600.5 L1441.3 569.3 L1447.5 568.1 L1453.6 556.8 L1459.8 553.4 L1465.8 559.4 L1472.1 547.2 L1478.3 547.6 L1484.4 555.9 L1490.6 555.1 L1496.7 582.7 L1502.9 596.9 L1509.1 606.1 L1515.2 604.1 L1521.4 612.2 L1527.5 611.9 L1533.7 613.2 L1539.9 609.9 L1546 601 L1552.2 592.2 L1558.3 593 L1564.5 592.2 L1570.7 616.1 L1576.8 632 L1583.2 665.7 L1589.1 663.4 L1595.3 635 L1601.5 632.3 L1607.6 631.1 L1613.8 629 L1619.9 615.3 L1626.1 616.4 L1632.1 621 L1638.4 608.7 L1644.4 597.8 L1650.7 622.3 L1656.9 620.4 L1663 620.9 L1669.2 632.2 L1675.4 665.1 L1681.5 683.5 L1688 726.8 L1693.8 713.9 L1700 715.6 L1706.3 737.2 L1712.3 726.5 L1718.5 741.7 L1724.6 757.6 L1731.1 786.9 L1736.7 781.1 L1743.4 811.9 L1749.3 807.7 L1755.4 805.2 L1761.5 798.1 L1767.8 811.9 L1773.9 821.9 L1780.4 873.1 L1786.2 853.7 L1792.4 832 L1798.6 822.3 L1804.7 821.6" fill="none" stroke="#e74d5e" stroke-width="2" stroke-linejoin="miter" stroke-miterlimit="12" stroke-linecap="butt" clip-path="url(#dn)"/>
</svg>

<!-- bitcoin logo -->
<svg style="left:13.8px;top:38px" width="82.8" height="82.8" viewBox="0 0 32 32"><circle cx="16" cy="16" r="16" fill="#f7931a"/><path fill="#fff" transform="translate(0.75 0)" d="M23.189 14.02c.314-2.096-1.283-3.223-3.465-3.975l.708-2.84-1.728-.43-.69 2.765c-.454-.114-.92-.22-1.385-.326l.695-2.783L15.596 6l-.708 2.839c-.376-.086-.746-.17-1.104-.26l.002-.009-2.384-.595-.46 1.846s1.283.294 1.256.312c.7.175.826.638.805 1.006l-.806 3.235c.048.012.11.03.18.057l-.183-.045-1.13 4.532c-.086.212-.303.531-.793.41.018.025-1.256-.313-1.256-.313l-.858 1.978 2.25.561c.418.105.828.215 1.231.318l-.715 2.872 1.727.43.708-2.84c.472.127.93.245 1.378.357l-.706 2.828 1.728.43.715-2.866c2.948.558 5.164.333 6.097-2.333.752-2.146-.037-3.385-1.588-4.192 1.13-.26 1.98-1.003 2.207-2.538zm-3.95 5.538c-.533 2.147-4.148.986-5.32.695l.95-3.805c1.172.293 4.929.872 4.37 3.11zm.535-5.569c-.487 1.953-3.495.96-4.47.717l.86-3.45c.975.243 4.118.696 3.61 2.733z"/></svg>
<div class="a btc">BTC</div>
<div class="a name">Bitcoin</div>

<div class="a pill"><div class="dk"></div>
<svg style="left:16px;top:9.2px" width="22" height="22" viewBox="0 0 22 22" fill="#f4d23c"><path d="M12.5 3.5 L13.9 8.6 L19 10 L13.9 11.4 L12.5 16.5 L11.1 11.4 L6 10 L11.1 8.6 Z"/><path d="M4.5 2.5 L5.2 4.8 L7.5 5.5 L5.2 6.2 L4.5 8.5 L3.8 6.2 L1.5 5.5 L3.8 4.8 Z"/><path d="M6 13 L6.8 15.7 L9.5 16.5 L6.8 17.3 L6 20 L5.2 17.3 L2.5 16.5 L5.2 15.7 Z"/></svg>
<div class="tx">What is BTC?</div></div>

<div class="a price">$66,324.45</div>
<svg style="left:1137.6px;top:76px" width="12" height="8" viewBox="0 0 12 8"><path d="M1.6 1.6 H10.4 L6 6.4 Z" fill="#ee4b4b" stroke="#ee4b4b" stroke-width="1.8" stroke-linejoin="round"/></svg>
<div class="a chg">1.65%</div>

<div class="c sl" style="left:452px;top:135px">Market Cap. #1</div>
<div class="c sv" style="left:452px;top:164px;letter-spacing:0.1px">$1,327,117,579,180</div>
<div class="c sl" style="left:749px;top:135px;letter-spacing:0.2px">Volume (24h) #2</div>
<div class="c sv" style="left:749.5px;top:164px;letter-spacing:1.05px">$22,340,647,041</div>
<div class="c sl" style="left:1047px;top:135px;letter-spacing:0.38px">Supply (Circ. / Total / Max)</div>
<div class="c sv" style="left:1047.5px;top:164px;letter-spacing:0.92px">20.01M / 20.01M / 21.00M</div>

<div class="a tab" style="left:46px;color:#222">Overview</div>
<div class="a tab" style="left:223px">News</div>
<div class="a tab" style="left:363px">Markets</div>
<div class="a tab" style="left:528px">Platforms</div>
<div class="a tabline"></div>
<div class="a tabsel"></div>

<div class="a btn" style="left:1557.8px"><span class="a m" style="left:35px;top:0.5px">Trade</span><svg style="left:107px;top:23px" width="13" height="9" viewBox="0 0 13 9"><path d="M1.5 1.5 H11.5 L6.5 7 Z" fill="#fff" stroke="#fff" stroke-width="1.5" stroke-linejoin="round"/></svg></div>
<div class="a btn" style="left:1733px"><span class="a m" style="left:39.5px;top:0.5px">Earn</span><svg style="left:103px;top:23px" width="13" height="9" viewBox="0 0 13 9"><path d="M1.5 1.5 H11.5 L6.5 7 Z" fill="#fff" stroke="#fff" stroke-width="1.5" stroke-linejoin="round"/></svg></div>

<div class="a seg" style="left:2.5px;width:104px"><div class="on" style="left:0;width:52px"></div>
<svg style="left:16.6px;top:12.8px" width="19.4" height="19.4" viewBox="0 0 20 20" fill="none" stroke="#111" stroke-width="2" stroke-linejoin="round" stroke-linecap="round"><rect x="2" y="2" width="16" height="16" rx="2"/><path d="M2.5 13.5 L7 9.5 L10 12 L17 5.5" stroke-width="1.8"/></svg>
<svg style="left:69.4px;top:12.7px" width="19.2" height="21" viewBox="0 0 20 22" fill="none" stroke="#666" stroke-width="1.7" stroke-linecap="round" stroke-linejoin="round"><rect x="2.5" y="5" width="4" height="11" rx="0.8"/><path d="M4.5 2.5V5M4.5 16V19.5"/><rect x="12" y="8" width="4" height="6" rx="0.8"/><path d="M14 2.5V8M14 14V19.5"/></svg>
</div>
<div class="a seg" style="left:119.5px;width:227px"><div class="on" style="left:0;width:94px"></div>
<div class="a" style="left:22px;top:0;line-height:45px;font-size:18.7px;font-weight:bold;color:#111">Basic</div>
<div class="a" style="left:116px;top:0;line-height:45px;font-size:18.8px;font-weight:bold;color:#6a6a6a">Advanced</div>
</div>

<div class="c hl" style="left:648px">24H Open</div><div class="c hv" style="left:648.5px;letter-spacing:0.8px">$67,420.91</div>
<div class="c hl" style="left:782px">24H High</div><div class="c hv" style="left:782.5px;color:#2a8a1f;letter-spacing:1.34px">$68,293.65</div>
<div class="c hl" style="left:916px">24H Low</div><div class="c hv" style="left:917px;color:#c1121c;letter-spacing:1.58px">$66,064.88</div>
<div class="c hl" style="left:1050px">24H Vol.</div><div class="c hv" style="left:1051px;letter-spacing:1.44px">$22.94B</div>

<div class="a seg" style="left:1435px;width:459.5px"><div class="on" style="left:66px;width:65.5px"></div></div>
<div class="c rg m2" style="left:1435px">1H</div>
<div class="c rg" style="left:1501.5px;color:#111;font-weight:bold;letter-spacing:0.5px">24H</div>
<div class="c rg m2" style="left:1567px">7D</div>
<div class="c rg m2" style="left:1632px">1M</div>
<div class="c rg m2" style="left:1698px">YTD</div>
<div class="c rg m2" style="left:1764px">1Y</div>
<div class="c rg m2" style="left:1830px">All</div>

<div class="yl" style="top:368.6px">68.500K</div><div class="yl" style="top:470.1px">68.000K</div><div class="yl" style="top:571.9px">67.500K</div><div class="yl" style="top:673.6px">67.000K</div><div class="yl" style="top:775.6px">66.500K</div><div class="yl" style="top:877.6px">66.000K</div><div class="yl" style="top:979.3000000000001px">65.500K</div>
<div class="xl" style="left:42.5px;letter-spacing:-0.15px">12:00</div><div class="xl" style="left:264px;letter-spacing:-0.15px">15:00</div><div class="xl" style="left:486px;letter-spacing:-0.15px">18:00</div><div class="xl" style="left:708px;letter-spacing:-0.15px">21:00</div><div class="xl" style="left:930px;letter-spacing:-0.36px">Mar 31</div><div class="xl" style="left:1151.5px;letter-spacing:0.5px">03:00</div><div class="xl" style="left:1373px;letter-spacing:0.5px">06:00</div><div class="xl" style="left:1595px;letter-spacing:0.5px">09:00</div>
<div class="a plabel"><span>66,324.45</span></div>

<div class="a ad"></div>
<svg style="left:0;top:1000px" width="100" height="40" viewBox="0 1000 100 40" fill="none" stroke-linecap="round"><path d="M10.5 1028 H30 C39.5 1028 41 1014.3 47.4 1014.3 C51 1014.3 51 1021.6 54 1021.6 C57 1021.6 57 1014.3 60.5 1014.3 C66 1014.3 66.5 1026.5 72.5 1027.6" stroke="#c6c6c6" stroke-width="1.4"/><path d="M10.4 1028.4 C22.5 1028.4 24.5 1011 32.8 1011 C41.2 1011 42.5 1028.2 54 1028.2 H78.2" stroke="#6a6a6a" stroke-width="1.5"/></svg>
<div class="a adlogo"></div>
<svg style="left:14.6px;top:1036.1px" width="21.5" height="21.5" viewBox="0 0 22 22" fill="none" stroke="#fff" stroke-width="2.1" stroke-linecap="round"><path d="M5.2 6.3 C4 9.5 5.5 11.5 7.4 11.2 M16.8 6.3 C18 9.5 16.5 11.5 14.6 11.2" stroke-width="2.3"/><path d="M8.1 13.3 H13.7 C13.7 9.3 7.9 9.3 7.9 13.3 C7.9 17 12.3 17.3 13.6 15.6" stroke-width="1.6"/></svg>
<div class="a adname">eToro</div>
<div class="a adtxt">- Trade 100+ cryptos with a 1% flat fee &amp; no hidden charges on eToro.</div>
<div class="a adbadge">Ad</div>
<div class="a need">Need more data?</div><div class="a needl">Explore CoinDesk's API</div>
</body></html>
